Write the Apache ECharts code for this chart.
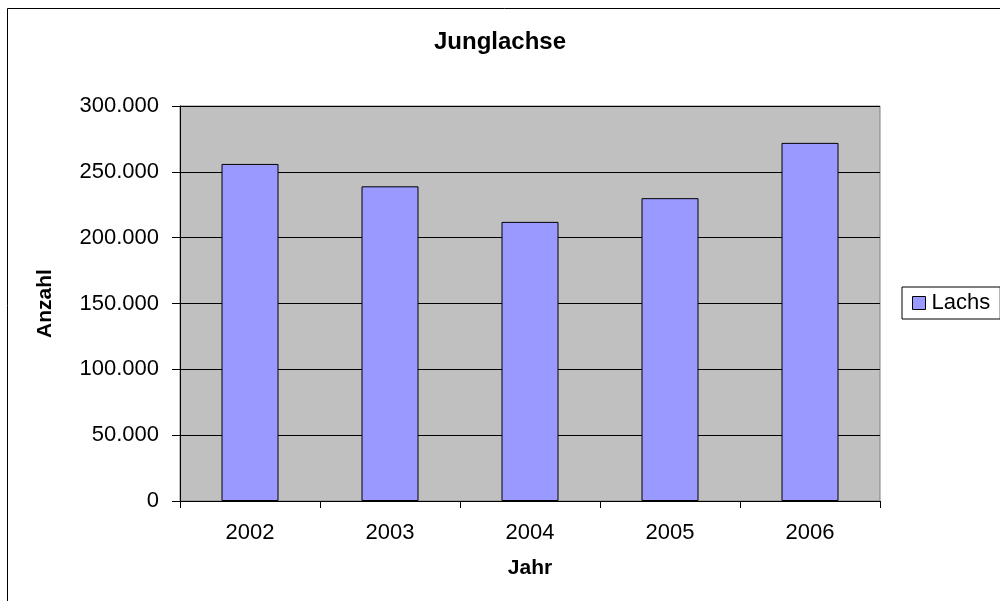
<!DOCTYPE html>
<html>
<head>
<meta charset="utf-8">
<script src="https://cdn.jsdelivr.net/npm/echarts@6/dist/echarts.min.js"></script>
<style>
html, body { margin: 0; padding: 0; background: #fff; }
#mainChart { width: 1000px; height: 601px; }
</style>
</head>
<body>
<div id="mainChart"></div>
<script>
// Daten
var years = ['2002', '2003', '2004', '2005', '2006'];
var lachs = [256000, 239000, 212000, 230000, 272000];
var yTicks = [0, 50000, 100000, 150000, 200000, 250000, 300000];

function fmt(v) {
    if (v === 0) return '0';
    var s = String(Math.round(v));
    return s.replace(/\B(?=(\d{3})+(?!\d))/g, '.');
}

var chartDom = document.getElementById('mainChart');
var myChart = echarts.init(chartDom);
var font = 'Liberation Sans, Arial, sans-serif';

var option = {
    animation: false,
    textStyle: { fontFamily: font },
    title: {
        text: 'Junglachse',
        left: 'center',
        top: 25,
        textStyle: { fontSize: 24, fontWeight: 'bold', color: '#000', fontFamily: font }
    },
    graphic: [{
        type: 'rect',
        shape: { x: 7.5, y: 8.5, width: 1000, height: 600 },
        style: { fill: 'none', stroke: '#000', lineWidth: 1 },
        z: -1
    }],
    legend: {
        data: ['Lachs'],
        left: 902,
        top: 287,
        orient: 'vertical',
        icon: 'rect',
        borderColor: '#000',
        borderWidth: 1,
        padding: [5, 10, 5, 10],
        itemWidth: 13,
        itemHeight: 13,
        itemGap: 0,
        textStyle: { fontSize: 22, color: '#000', fontFamily: font, padding: [0, 0, 0, 1] },
        itemStyle: { borderColor: '#000', borderWidth: 1 }
    },
    grid: {
        left: 180,
        right: 120,
        top: 106,
        bottom: 100,
        show: true,
        backgroundColor: '#C0C0C0',
        borderColor: '#808080',
        borderWidth: 1
    },
    xAxis: {
        type: 'category',
        data: years,
        name: 'Jahr',
        nameLocation: 'middle',
        nameGap: 57,
        nameTextStyle: { fontSize: 21, fontWeight: 'bold', color: '#000' },
        axisLine: { lineStyle: { color: '#000', width: 1 } },
        axisTick: { show: true, length: 7, alignWithLabel: false, lineStyle: { color: '#000' } },
        axisLabel: { fontSize: 22, color: '#000', margin: 21 }
    },
    yAxis: {
        type: 'value',
        min: yTicks[0],
        max: yTicks[yTicks.length - 1],
        interval: 50000,
        name: 'Anzahl',
        nameLocation: 'middle',
        nameGap: 124,
        nameRotate: 90,
        nameTextStyle: { fontSize: 21, fontWeight: 'bold', color: '#000' },
        axisLine: { show: true, lineStyle: { color: '#000', width: 1 } },
        axisTick: { show: true, length: 8, lineStyle: { color: '#000' } },
        axisLabel: { fontSize: 22, color: '#000', margin: 21, formatter: fmt },
        splitLine: { show: true, lineStyle: { color: '#000', width: 1 } }
    },
    series: [{
        name: 'Lachs',
        type: 'bar',
        data: lachs,
        barWidth: 57,
        itemStyle: { color: '#9999FF', borderColor: '#000', borderWidth: 1 }
    }]
};

myChart.setOption(option);
</script>
</body>
</html>
